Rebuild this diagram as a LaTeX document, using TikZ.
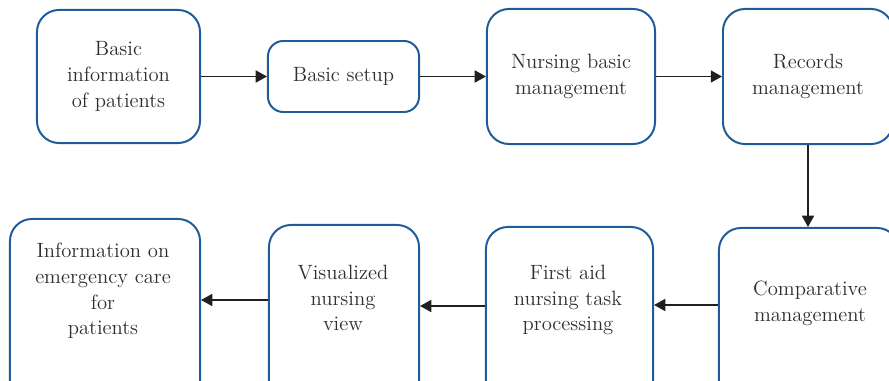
\documentclass[tikz,border=0pt]{standalone}
\usetikzlibrary{arrows.meta}
\definecolor{boxblue}{HTML}{1F5B98}
\definecolor{txtgray}{HTML}{2E2E2E}
\definecolor{arrowblack}{HTML}{231F20}
\begin{document}
\begin{tikzpicture}
    [x=0.025cm, y=-0.025cm,
     box/.style={draw=boxblue, line width=1.4pt, rounded corners=0.55cm,
       text=txtgray, align=center, inner sep=0pt,
       font=\fontsize{14.7}{18.2}\selectfont},
     lbl/.style={text=txtgray, align=center, inner sep=0pt,
       font=\fontsize{14.7}{18.2}\selectfont},
     flow/.style={draw=arrowblack, line width=1.3pt,
       -{Triangle[length=8pt, width=8.5pt]}}]

    \useasboundingbox (0,0) rectangle (889,381);
    \clip (0,0) rectangle (889,381);

    % top row
    \node [box, minimum width=4.075cm, minimum height=3.325cm]
      at (118.5, 76.5) (b1) {Basic\\information\\of patients};
    \node [box, minimum width=3.775cm, minimum height=1.775cm, rounded corners=0.38cm]
      at (343.5, 76.5) (b2) {Basic setup};
    \node [box, minimum width=4.2cm, minimum height=3.375cm]
      at (571, 76.5) (b3) {Nursing basic\\management};
    \node [box, minimum width=4.25cm, minimum height=3.375cm]
      at (808, 76.5) (b4) {Records\\management};

    % bottom row (boxes run past the lower edge)
    \node [box, minimum width=4.75cm, minimum height=5.025cm] at (105, 319.5) (b5) {};
    \node [box, minimum width=3.75cm, minimum height=4.875cm] at (344, 322.5) (b6) {};
    \node [box, minimum width=4.175cm, minimum height=4.825cm] at (569.5, 323.5) (b7) {};
    \node [box, minimum width=4.5cm, minimum height=4.8cm] at (809, 324) (b8) {};

    \node [lbl] at (103, 291) (t5) {Information on\\emergency care\\for\\patients};
    \node [lbl] at (343, 298) (t6) {Visualized\\nursing\\view};
    \node [lbl] at (568, 300) (t7) {First aid\\nursing task\\processing};
    \node [lbl] at (810, 303.5) (t8) {Comparative\\management};

    \draw [flow] (b1) -- (b2);
    \draw [flow] (b2) -- (b3);
    \draw [flow] (b3) -- (b4);
    \draw [flow] (b4.south) -- (b4.south |- b8.north);

    \draw [flow] (b8.west |- 0,305) -- (b7.east |- 0,305);
    \draw [flow] (b7.west |- 0,306) -- (b6.east |- 0,306);
    \draw [flow] (b6.west |- 0,300) -- (b5.east |- 0,300);

  \end{tikzpicture}
\end{document}
